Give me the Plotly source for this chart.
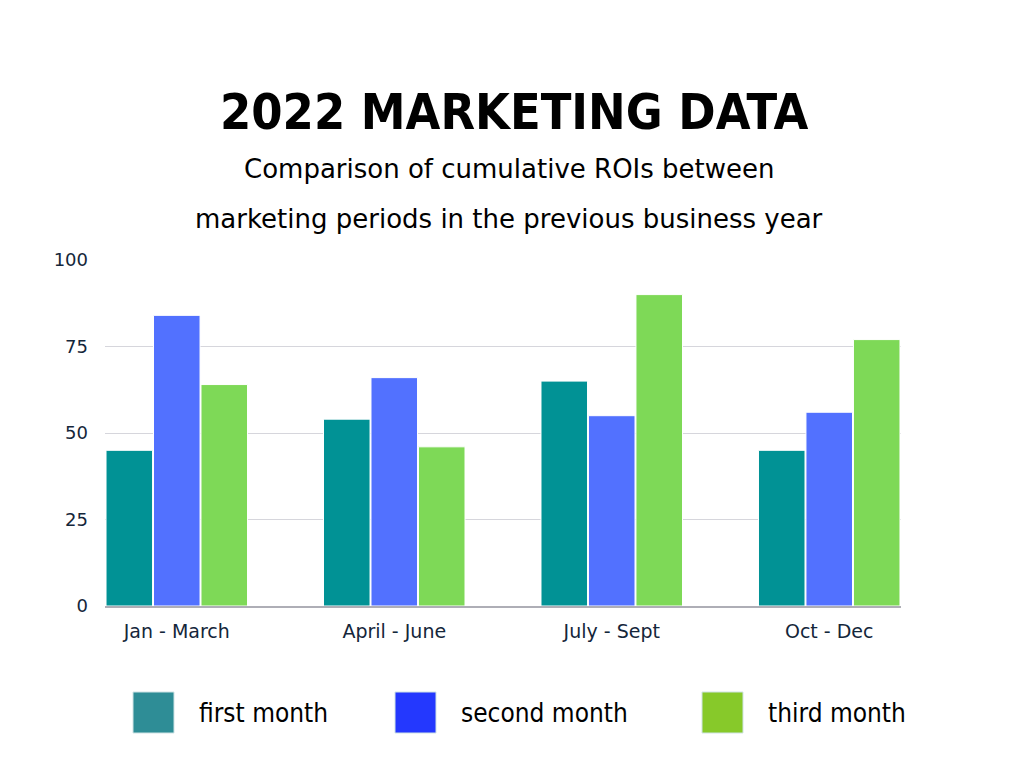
import plotly.graph_objects as go

# data
periods = ["Jan - March", "April - June", "July - Sept", "Oct - Dec"]
series_names = ["first month", "second month", "third month"]
first_month = [45, 54, 65, 45]
second_month = [84, 66, 55, 56]
third_month = [64, 46, 90, 77]
y_ticks = [0, 25, 50, 75, 100]

bar_colors = ["#019295", "#5271ff", "#7ed957"]
legend_colors = ["#2e8d96", "#2438fe", "#87c92a"]

W, H = 1024, 768
OFF = 8  # page body margin
L, R, T, B = 105 - OFF, 901 - OFF, 260 - OFF, 606 - OFF  # plot area in pixels

NARROW = "Noto Sans ExtraCondensed, Noto Sans Condensed, DejaVu Sans Condensed, sans-serif"


def px(x):
    return (x - OFF - L) / (R - L)


def py(y):
    return (B - (y - OFF)) / (B - T)


fig = go.Figure()
for name, vals, col in zip(series_names, [first_month, second_month, third_month], bar_colors):
    fig.add_trace(go.Bar(x=periods, y=vals, name=name, marker_color=col,
                         marker_line=dict(color="white", width=1), showlegend=False))

fig.update_layout(
    width=W, height=H,
    autosize=False,
    template="none",
    paper_bgcolor="white",
    plot_bgcolor="white",
    margin=dict(l=L, r=W - R, t=T, b=H - B, pad=0),
    barmode="group",
    bargap=0.345,
    bargroupgap=0.02,
    font=dict(family="DejaVu Sans, sans-serif", color="#14263a"),
)

fig.update_xaxes(
    range=[-0.33, 3.33],
    showgrid=False,
    showline=True, linecolor="#aeaeb6", linewidth=2,
    ticks="", tickfont=dict(family="DejaVu Sans, sans-serif", size=19, color="#14263a"),
    ticklabelstandoff=7,
)
fig.update_yaxes(
    range=[0, 100],
    tickvals=y_ticks,
    showgrid=True, gridcolor="#d6d6dc", gridwidth=1,
    zeroline=False, showline=False,
    ticks="", tickfont=dict(family="DejaVu Sans, sans-serif", size=18, color="#14263a"),
    ticklabelstandoff=16,
)

# title and subtitle
fig.add_annotation(text="<b>2022 MARKETING DATA</b>", xref="paper", yref="paper",
                   x=px(514), y=py(112), showarrow=False, xanchor="center", yanchor="middle",
                   font=dict(family=NARROW, size=50, color="black"))
fig.add_annotation(text="Comparison of cumulative ROIs between", xref="paper", yref="paper",
                   x=px(509), y=py(169), showarrow=False, xanchor="center", yanchor="middle",
                   font=dict(family="DejaVu Sans, sans-serif", size=26, color="black"))
fig.add_annotation(text="marketing periods in the previous business year", xref="paper", yref="paper",
                   x=px(509), y=py(219), showarrow=False, xanchor="center", yanchor="middle",
                   font=dict(family="DejaVu Sans, sans-serif", size=26, color="black"))

# legend with large squares
legend_x = [133, 395, 702]
for name, col, lx in zip(series_names, legend_colors, legend_x):
    fig.add_shape(type="rect", xref="paper", yref="paper",
                  x0=px(lx), x1=px(lx + 41), y0=py(733), y1=py(692),
                  fillcolor=col, line=dict(color="#cfe3e5", width=1))
    fig.add_annotation(text=name, xref="paper", yref="paper",
                       x=px(lx + 64), y=py(713), showarrow=False,
                       xanchor="left", yanchor="middle",
                       font=dict(family=NARROW, size=26, color="black"))

fig.write_html("out.html")
